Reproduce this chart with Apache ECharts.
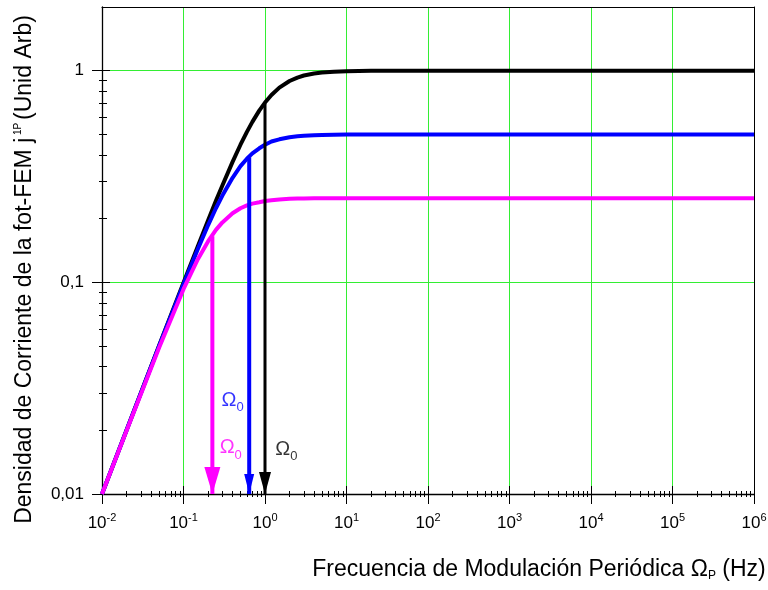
<!DOCTYPE html>
<html>
<head>
<meta charset="utf-8">
<script src="https://cdn.jsdelivr.net/npm/echarts@6/dist/echarts.min.js"></script>
<style>
  html, body {margin: 0; padding: 0; background: #fff}
  #chart {width: 768px; height: 590px}
</style>
</head>
<body>
<div id="chart"></div>
<script>
// frecuencia (Hz) y densidad de corriente (unid. arb.)
const freq = [0.01, 0.02, 0.05, 0.1, 0.15, 0.2, 0.25, 0.3, 0.4, 0.5, 0.6, 0.7, 0.85, 1, 1.2, 1.5, 2, 2.5, 3, 4, 5, 7, 10, 20, 50, 100, 1000, 1e6]
const curveBlack = [0.01, 0.02, 0.05, 0.0995, 0.148, 0.196, 0.243, 0.287, 0.371, 0.447, 0.514, 0.573, 0.648, 0.707, 0.768, 0.832, 0.894, 0.928, 0.949, 0.970, 0.981, 0.990, 0.995, 0.999, 1, 1, 1, 1]
const curveBlue = [0.01, 0.02, 0.0499, 0.098, 0.1437, 0.186, 0.224, 0.257, 0.312, 0.354, 0.384, 0.407, 0.430, 0.447, 0.463, 0.474, 0.485, 0.490, 0.493, 0.496, 0.4975, 0.4987, 0.4994, 0.4998, 0.5, 0.5, 0.5, 0.5]
const curveMagenta = [0.01, 0.0199, 0.049, 0.0928, 0.1286, 0.156, 0.177, 0.192, 0.212, 0.224, 0.231, 0.2354, 0.239, 0.2425, 0.2446, 0.2466, 0.248, 0.2488, 0.249, 0.2495, 0.2497, 0.2499, 0.25, 0.25, 0.25, 0.25, 0.25, 0.25]

// flechas en Omega_0 (negra, azul, magenta)
const arrowFreq = [1, 0.64, 0.226]
const arrowTop = [0.7, 0.39, 0.165]
const arrowColor = ['#000000', '#0000ff', '#ff00ff']
const arrowWidth = [3, 4, 4]
const arrowHead = [[12, 22], [10, 20], [16, 27]]

// etiquetas Omega_0
const omegaFreq = [1.83, 0.40, 0.38]
const omegaVal = [0.0163, 0.0278, 0.0165]

// ejes
const xMin = 0.01, xMax = 1e6, yMin = 0.01, yMax = 2
const xMajor = [0.01, 0.1, 1, 10, 100, 1e3, 1e4, 1e5, 1e6]
const xGrid = [0.1, 1, 10, 100, 1e3, 1e4, 1e5]
const yMajor = [0.01, 0.1, 1]
const yGrid = [0.1, 1]
const yLabels = ['0,01', '0,1', '1']

const minorOf = function (major) {
  let out = []
  major.slice(0, -1).forEach(m => { for (let k = 2; k < 10; k++) out.push(+(m * k).toPrecision(6)) })
  return out
}
const xMinor = minorOf(xMajor)
const yMinor = minorOf(yMajor)

const font = 'Liberation Sans'
const green = '#33ee33'

const tickAxis = function (dim, values, len, inside, extra) {
  let lim = dim === 'x' ? {min: xMin, max: xMax, position: 'bottom'} : {min: yMin, max: yMax, position: 'left'}
  return Object.assign({
    type: 'log', logBase: 10, min: lim.min, max: lim.max, position: lim.position,
    axisLine: {show: false},
    axisTick: {show: len > 0, inside: inside, length: len, customValues: values, lineStyle: {color: '#000', width: 1}},
    axisLabel: {show: false},
    splitLine: {show: false}
  }, extra || {})
}

const xAxes = [
  tickAxis('x', xMajor, 10, false, {
    axisLine: {show: true, lineStyle: {color: '#000', width: 1.3}},
    axisLabel: {
      show: true, customValues: xMajor, margin: 18,
      formatter: v => '{b|10}{s|' + Math.round(Math.log10(v)) + '}',
      rich: {
        b: {fontFamily: font, fontSize: 17, lineHeight: 22, color: '#000'},
        s: {fontFamily: font, fontSize: 11, lineHeight: 10, verticalAlign: 'top', color: '#000'}
      }
    },
    name: 'Frecuencia de Modulación Periódica Ω{s|P} (Hz)',
    nameLocation: 'middle',
    nameGap: 64,
    nameTextStyle: {
      fontFamily: font, fontSize: 23, color: '#000', lineHeight: 24, padding: [0, 0, 0, 222],
      rich: {s: {fontFamily: font, fontSize: 12, lineHeight: 8, verticalAlign: 'bottom', color: '#000'}}
    }
  }),
  tickAxis('x', xMajor, 8, true),
  tickAxis('x', xMinor, 3, false),
  tickAxis('x', xMinor, 3, true),
  tickAxis('x', xGrid, 0, false, {splitLine: {show: true, lineStyle: {color: green, width: 1}}}),
  tickAxis('x', [], 0, false, {position: 'top', axisLine: {show: true, lineStyle: {color: '#000', width: 1}}})
]

const yAxes = [
  tickAxis('y', yMajor, 10, false, {
    axisLine: {show: true, lineStyle: {color: '#000', width: 1.3}},
    axisLabel: {
      show: true, customValues: yMajor, margin: 18, fontFamily: font, fontSize: 17, color: '#000',
      formatter: v => yLabels[yMajor.findIndex(m => Math.abs(Math.log10(m / v)) < 1e-6)]
    },
    name: 'Densidad de Corriente de la fot-FEM j{s| 1P }(Unid Arb)',
    nameLocation: 'middle',
    nameGap: 65,
    nameTextStyle: {
      fontFamily: font, fontSize: 23, color: '#000', lineHeight: 24, padding: [0, 38, 0, 0],
      rich: {s: {fontFamily: font, fontSize: 10, lineHeight: 10, verticalAlign: 'top', color: '#000'}}
    }
  }),
  tickAxis('y', yMajor, 8, true),
  tickAxis('y', yMinor, 3, false),
  tickAxis('y', yMinor, 5, true),
  tickAxis('y', yGrid, 0, false, {splitLine: {show: true, lineStyle: {color: green, width: 1}}}),
  tickAxis('y', [], 0, false, {position: 'right', axisLine: {show: true, lineStyle: {color: '#000', width: 1}}})
]

const curve = (vals, color) => ({
  type: 'line', xAxisIndex: 0, yAxisIndex: 0,
  data: freq.map((f, i) => [f, vals[i]]),
  showSymbol: false, smooth: false,
  lineStyle: {color: color, width: 4, join: 'round'}, itemStyle: {color: color},
  z: 3
})

const arrows = arrowFreq.map((f, i) => ({
  type: 'line', xAxisIndex: 0, yAxisIndex: 0, clip: false,
  data: [
    {value: [f, arrowTop[i]], symbol: 'none'},
    {value: [f, yMin], symbol: 'triangle', symbolSize: arrowHead[i], symbolRotate: 180, symbolOffset: [0, -arrowHead[i][1] / 2]}
  ],
  showSymbol: true,
  lineStyle: {color: arrowColor[i], width: arrowWidth[i]},
  itemStyle: {color: arrowColor[i]},
  z: 4
}))

const omegaLabels = {
  type: 'scatter', xAxisIndex: 0, yAxisIndex: 0, symbolSize: 1,
  itemStyle: {color: 'rgba(0,0,0,0)'},
  data: omegaFreq.map((f, i) => ({
    value: [f, omegaVal[i]],
    label: {
      show: true, position: 'inside', formatter: '{o|Ω}{s|0}',
      rich: {
        o: {fontFamily: font, fontSize: 20, lineHeight: 20, verticalAlign: 'top', color: arrowColor[i]},
        s: {fontFamily: font, fontSize: 13, lineHeight: 13, padding: [14, 0, 0, 0], color: arrowColor[i]}
      }
    }
  })),
  z: 5
}

const option = {
  animation: false,
  backgroundColor: '#fff',
  grid: {left: 102, right: 14, top: 7, bottom: 96, containLabel: false, outerBoundsMode: 'none'},
  xAxis: xAxes,
  yAxis: yAxes,
  series: [
    curve(curveBlack, '#000000'),
    curve(curveBlue, '#0000ff'),
    curve(curveMagenta, '#ff00ff')
  ].concat(arrows, [omegaLabels])
}

echarts.init(document.getElementById('chart')).setOption(option)
</script>
</body>
</html>
